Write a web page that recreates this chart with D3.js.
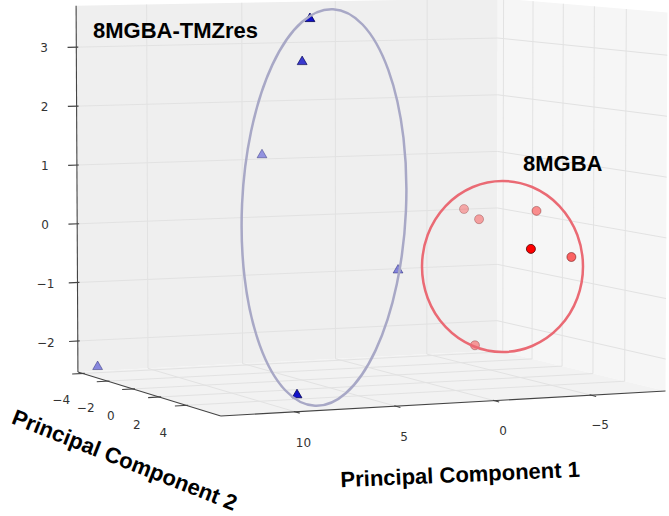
<!DOCTYPE html>
<html>
<head>
<meta charset="utf-8">
<script src="https://cdn.jsdelivr.net/npm/d3@7"></script>
<style>
body { margin: 0; background: #fff; }
svg { display: block; }
</style>
</head>
<body>
<svg width="669" height="516"></svg>
<script>
(function() {

// scores (PC1, PC2, PC3 per sample)
var tmzPC1 = [13.2, 7.45, 6.4, 5.28, -0.06, 8.48];
var tmzPC2 = [-3.5, 4.0, 2.0, -2.5, 0.0, 4.5];
var tmzPC3 = [-2.39, 3.64, 2.88, 1.16, -0.75, -2.42];

var mgbaPC1 = [-5.94, -6.37, -8.3, -3.9, -8.55, -5.76];
var mgbaPC2 = [-3.0, -2.5, -1.0, 4.0, 1.0, -2.0];
var mgbaPC3 = [0.08, -0.08, 0.11, -0.24, -0.59, -2.24];

var pc1Ticks = [10, 5, 0, -5];
var pc2Ticks = [-4, -2, 0, 2, 4];
var pc3Ticks = [-2, -1, 0, 1, 2, 3];

var pc1Range = [-8.9, 13.65],
    pc2Range = [-4.4, 6.5],
    pc3Range = [-2.53, 3.70];

var svg = d3.select("svg");

// box half sizes in world units
var bx = 1, by = 0.8126, bz = 0.7886;
var xs = d3.scaleLinear().domain(pc1Range).range([-bx, bx]),
    ys = d3.scaleLinear().domain(pc2Range).range([-by, by]),
    zs = d3.scaleLinear().domain(pc3Range).range([-bz, bz]);

// camera
var azim = 66 * Math.PI / 180,
    elev = 4.66 * Math.PI / 180,
    dist = 19.92, focal = 4718,
    cx = 366.8, cy = 195.8;
var ca = Math.cos(azim), sa = Math.sin(azim),
    ce = Math.cos(elev), se = Math.sin(elev);

function project(p) {
    var x = xs(p[0]), y = ys(p[1]), z = zs(p[2]);
    var depth = dist - (ce * ca * x + ce * sa * y + se * z);
    var X = -sa * x + ca * y;
    var Y = -se * ca * x - se * sa * y + ce * z;
    return [cx + focal * X / depth, cy - focal * Y / depth, depth];
}

var line = d3.line().x(function(d) { return d[0]; }).y(function(d) { return d[1]; });
function path3(pts) { return line(pts.map(project)); }

var x0 = pc1Range[1], x1 = pc1Range[0],   // x0 = left (near) side, x1 = far right wall
    y0 = pc2Range[0], y1 = pc2Range[1],   // y0 = back wall, y1 = front
    z0 = pc3Range[0], z1 = pc3Range[1];

// panes
var panes = svg.append("g");
panes.append("path").attr("d", path3([[x0, y0, z0], [x1, y0, z0], [x1, y0, z1], [x0, y0, z1]]) + "Z")
    .attr("fill", "#efefef");
panes.append("path").attr("d", path3([[x1, y0, z0], [x1, y1, z0], [x1, y1, z1], [x1, y0, z1]]) + "Z")
    .attr("fill", "#f6f6f6");
panes.append("path").attr("d", path3([[x0, y0, z0], [x0, y1, z0], [x1, y1, z0], [x1, y0, z0]]) + "Z")
    .attr("fill", "#f2f2f2");

// grid
var grid = svg.append("g").attr("fill", "none").attr("stroke", "#e2e2e2").attr("stroke-width", 1);
pc1Ticks.forEach(function(t) {
    grid.append("path").attr("d", path3([[t, y1, z0], [t, y0, z0], [t, y0, z1]]));
});
pc2Ticks.forEach(function(t) {
    grid.append("path").attr("d", path3([[x0, t, z0], [x1, t, z0], [x1, t, z1]]));
});
pc3Ticks.forEach(function(t) {
    grid.append("path").attr("d", path3([[x0, y0, t], [x1, y0, t], [x1, y1, t]]));
});

// axes
var axes = svg.append("g").attr("fill", "none").attr("stroke", "#444").attr("stroke-width", 1.1);
axes.append("path").attr("d", path3([[x0, y0, z0], [x0, y0, z1]]));
axes.append("path").attr("d", path3([[x0, y0, z0], [x0, y1, z0]]));
axes.append("path").attr("d", path3([[x0, y1, z0], [x1, y1, z0]]));

pc3Ticks.forEach(function(t) {
    axes.append("path").attr("d", path3([[x0 - 0.1, y0, t], [x0 + 0.45, y0, t]]));
});
pc2Ticks.forEach(function(t) {
    axes.append("path").attr("d", path3([[x0 - 0.1, t, z0], [x0 + 0.55, t, z0]]));
});
pc1Ticks.forEach(function(t) {
    axes.append("path").attr("d", path3([[t, y1 - 0.1, z0], [t, y1 + 0.3, z0]]));
});

var tickText = svg.append("g")
    .style("font-family", "'DejaVu Sans', sans-serif")
    .style("font-size", "12px")
    .attr("fill", "#333")
    .attr("text-anchor", "middle");

function tickLabel(p, t) {
    var s = project(p);
    tickText.append("text").attr("x", s[0]).attr("y", s[1]).attr("dy", "0.35em")
        .text(d3.format("")(t).replace("-", "\u2212"));
}
pc3Ticks.forEach(function(t) { tickLabel([x0 + 1.65, y0, t], t); });
pc2Ticks.forEach(function(t) { tickLabel([x0 + 1.12, t, z0 - 0.43], t); });
pc1Ticks.forEach(function(t) { tickLabel([t, y1 + 0.55, z0 - 0.45], t); });

// points, with depth shading like mplot3d
function rows(a, b, c, group) {
    return a.map(function(v, i) {
        var s = project([v, b[i], c[i]]);
        return {group: group, x: s[0], y: s[1], depth: s[2]};
    });
}
var tmz = rows(tmzPC1, tmzPC2, tmzPC3, "tmz"),
    mgba = rows(mgbaPC1, mgbaPC2, mgbaPC3, "mgba");

[[tmz, 0.42], [mgba, 0.3]].forEach(function(g) {
    var shade = d3.scaleLinear().domain(d3.extent(g[0], function(d) { return d.depth; })).range([1, g[1]]);
    g[0].forEach(function(d) { d.alpha = shade(d.depth); });
});

var all = tmz.concat(mgba).sort(function(a, b) { return b.depth - a.depth; });
var tri = d3.symbol().type(d3.symbolTriangle).size(42);

var marks = svg.append("g");
all.forEach(function(d) {
    var m;
    if (d.group == "tmz") {
        m = marks.append("path").attr("d", tri)
            .attr("transform", "translate(" + d.x + "," + d.y + ")")
            .attr("fill", "#1010c8").attr("stroke", "#000050");
    } else {
        m = marks.append("circle").attr("cx", d.x).attr("cy", d.y).attr("r", 4.5)
            .attr("fill", "#ff0000").attr("stroke", "#500000");
    }
    m.attr("stroke-width", 0.8).attr("fill-opacity", d.alpha).attr("stroke-opacity", d.alpha);
});

// hand drawn group outlines
svg.append("ellipse")
    .attr("cx", 0).attr("cy", 0).attr("rx", 82).attr("ry", 198.5)
    .attr("transform", "translate(324,207.5) rotate(2.6)")
    .attr("fill", "none").attr("stroke", "#a8a8c6").attr("stroke-width", 2.5);
svg.append("ellipse")
    .attr("cx", 502.5).attr("cy", 266.5).attr("rx", 80.5).attr("ry", 85.5)
    .attr("fill", "none").attr("stroke", "#ea6a74").attr("stroke-width", 2.5);

var titles = svg.append("g")
    .style("font-family", "'Liberation Sans', Arial, sans-serif")
    .style("font-weight", "bold")
    .style("font-size", "22px")
    .attr("fill", "#000");

titles.append("text").attr("x", 93).attr("y", 37.5).text("8MGBA-TMZres");
titles.append("text").attr("x", 523).attr("y", 171).text("8MGBA");
titles.append("text").attr("text-anchor", "middle")
    .attr("transform", "translate(460.5,482) rotate(-2.5)")
    .text("Principal Component 1");
titles.append("text").attr("text-anchor", "middle")
    .attr("transform", "translate(122,467) rotate(21.5)")
    .text("Principal Component 2");

})();
</script>
</body>
</html>
